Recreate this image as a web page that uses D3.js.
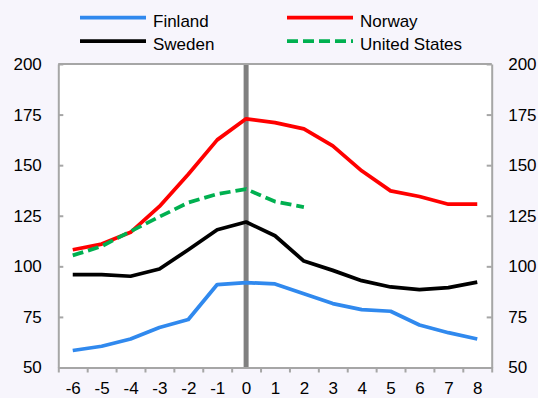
<!DOCTYPE html>
<html>
<head>
<meta charset="utf-8">
<script src="https://cdn.jsdelivr.net/npm/d3@7"></script>
<style>
  html, body { margin: 0; padding: 0; background: #f7f5fc; }
  svg { display: block; }
  text { font-family: "Liberation Sans", Arial, sans-serif; fill: #000; }
</style>
</head>
<body>
<svg id="chart" width="538" height="398"></svg>
<script>
// Index around the crisis year (year 0), by country
const years = [-6, -5, -4, -3, -2, -1, 0, 1, 2, 3, 4, 5, 6, 7, 8];
const finland = [58.4, 60.5, 64.1, 69.8, 73.7, 91.0, 92.0, 91.3, 86.4, 81.6, 78.6, 77.8, 71.0, 67.2, 64.1];
const norway  = [108.2, 111.0, 116.8, 129.6, 145.5, 162.5, 172.9, 171.0, 167.9, 159.5, 147.2, 137.3, 134.5, 130.7, 130.7];
const sweden  = [95.9, 95.9, 95.1, 98.7, 108.2, 118.1, 121.9, 115.1, 102.6, 98.0, 92.9, 89.8, 88.5, 89.5, 92.2];
const unitedStates = [105.4, 109.9, 117.3, 124.5, 131.5, 135.7, 138.2, 132.0, 129.3];
const yTicks = [50, 75, 100, 125, 150, 175, 200];

const series = [
  { name: "Finland", values: finland, color: "#3089ee", dash: null },
  { name: "Norway", values: norway, color: "#ff0000", dash: null },
  { name: "Sweden", values: sweden, color: "#000000", dash: null },
  { name: "United States", values: unitedStates, color: "#00b050", dash: "11,5" }
];

const svg = d3.select("#chart");
const plotLeft = 58.3, plotRight = 491.7, plotTop = 64, plotBottom = 367.5;
const axisColor = "#a6a6a6";

const x = d3.scaleLinear().domain([-6.5, 8.5]).range([plotLeft, plotRight]);
const y = d3.scaleLinear().domain([50, 200]).range([plotBottom, plotTop]);

// plot area
svg.append("rect")
  .attr("x", plotLeft).attr("y", plotTop)
  .attr("width", plotRight - plotLeft).attr("height", plotBottom - plotTop)
  .attr("fill", "#ffffff");

// crisis-year marker
svg.append("line")
  .attr("x1", x(0)).attr("x2", x(0))
  .attr("y1", plotTop).attr("y2", plotBottom)
  .attr("stroke", "#808080").attr("stroke-width", 5);

// lines
const line = d3.line()
  .x((d, i) => x(years[i]))
  .y(d => y(d));

series.forEach(s => {
  svg.append("path")
    .datum(s.values)
    .attr("d", line)
    .attr("fill", "none")
    .attr("stroke", s.color)
    .attr("stroke-width", 3.75)
    .attr("stroke-linejoin", "round")
    .attr("stroke-dasharray", s.dash);
});

// axes
function styleAxis(g) {
  g.selectAll(".domain").attr("stroke", axisColor).attr("stroke-width", 2);
  g.selectAll(".tick line").attr("stroke", axisColor).attr("stroke-width", 2);
  g.selectAll("text").attr("font-size", 17).attr("fill", "#000")
    .style("font-family", '"Liberation Sans", Arial, sans-serif');
}

svg.append("g")
  .attr("transform", `translate(${plotLeft},0)`)
  .call(d3.axisLeft(y).tickValues(yTicks).tickSize(-5).tickPadding(16.5).tickSizeOuter(0))
  .call(styleAxis);

svg.append("g")
  .attr("transform", `translate(${plotRight},0)`)
  .call(d3.axisRight(y).tickValues(yTicks).tickSize(-5).tickPadding(16.5).tickSizeOuter(0))
  .call(styleAxis);

// top border
svg.append("line")
  .attr("x1", plotLeft).attr("x2", plotRight).attr("y1", plotTop).attr("y2", plotTop)
  .attr("stroke", axisColor).attr("stroke-width", 2);

// category boundary ticks
const boundaries = d3.range(years.length + 1).map(i => years[0] - 0.5 + i);
svg.append("g")
  .attr("transform", `translate(0,${plotBottom})`)
  .call(d3.axisBottom(x).tickValues(boundaries).tickFormat("").tickSize(5).tickSizeOuter(0))
  .call(styleAxis);

// category labels (plain hyphen-minus)
svg.append("g")
  .attr("transform", `translate(0,${plotBottom})`)
  .call(d3.axisBottom(x).tickValues(years).tickFormat(d => String(d)).tickSize(0).tickPadding(14.7))
  .call(g => g.select(".domain").remove())
  .call(styleAxis);

// legend
const legendItems = [
  { s: series[0], lx: 80, ly: 17.5 },
  { s: series[1], lx: 287, ly: 17.5 },
  { s: series[2], lx: 80, ly: 41 },
  { s: series[3], lx: 287, ly: 41 }
];
const lg = svg.append("g");
legendItems.forEach(it => {
  lg.append("line")
    .attr("x1", it.lx).attr("x2", it.lx + 66)
    .attr("y1", it.ly).attr("y2", it.ly)
    .attr("stroke", it.s.color).attr("stroke-width", 3.75)
    .attr("stroke-dasharray", it.s.dash);
  lg.append("text")
    .attr("x", it.lx + 73).attr("y", it.ly + 9)
    .attr("font-size", 17)
    .text(it.s.name);
});
</script>
</body>
</html>
